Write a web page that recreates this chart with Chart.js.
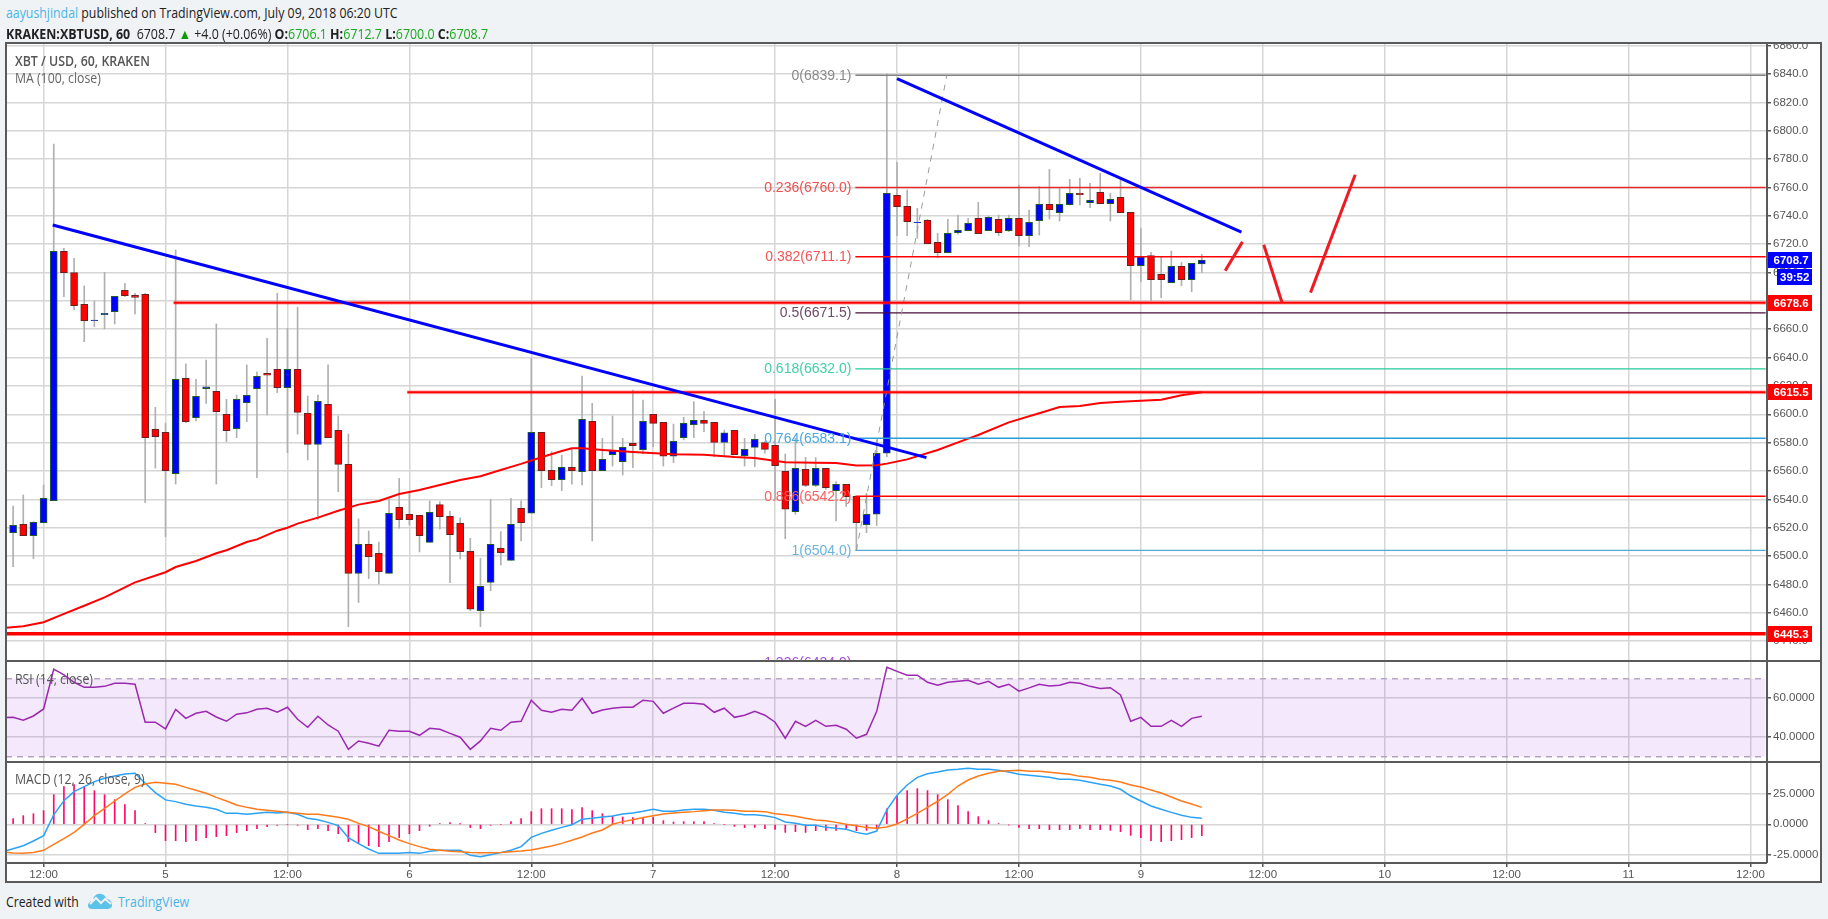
<!DOCTYPE html>
<html><head><meta charset="utf-8"><title>XBT / USD</title>
<script src="https://cdn.jsdelivr.net/npm/chart.js@4/dist/chart.umd.min.js"></script>
<style>
html,body{margin:0;padding:0;background:#f0f3f6;width:1828px;height:919px;overflow:hidden;font-family:"Open Sans",sans-serif}
#panel{position:absolute;left:5px;top:42px;width:1817px;height:841px;box-sizing:border-box;background:#fff}
#frame{position:absolute;left:5px;top:42px;width:1817px;height:841px;box-sizing:border-box;border:2px solid #5a5a5a;pointer-events:none;z-index:5}
canvas{position:absolute;left:6px;display:block}
.rule{position:absolute;background:#5a5a5a;z-index:5;pointer-events:none}
.t{position:absolute;white-space:nowrap;transform-origin:0 50%;z-index:6;line-height:18px;height:18px}
.a{color:#4ab5e8}
.g{color:#19a81f}
</style></head><body>
<div id="panel"></div>
<canvas id="cPrice" width="1816" height="618" style="top:43px"></canvas>
<canvas id="cRsi" width="1816" height="101" style="top:661px"></canvas>
<canvas id="cMacd" width="1816" height="120" style="top:762px"></canvas>
<div id="frame"></div>
<div class="rule" style="left:5px;top:660px;width:1817px;height:2px"></div>
<div class="rule" style="left:5px;top:761px;width:1817px;height:2px"></div>
<div class="rule" style="left:5px;top:862px;width:1762px;height:2px"></div>
<div class="rule" style="left:1766px;top:43px;width:2px;height:820px"></div>

<div class="t" style="left:6px;top:4px;font-size:14px;color:#222;transform:scaleX(.88)"><span class="a">aayushjindal</span> published on TradingView.com, July 09, 2018 06:20 UTC</div>
<div class="t" style="left:6px;top:25px;font-size:14px;color:#222;transform:scaleX(.888)"><b>KRAKEN:XBTUSD, 60</b>&nbsp; 6708.7 <span style="color:#0a9a0a">&#9650;</span> +4.0 (+0.06%) <b>O:</b><span class="g">6706.1</span> <b>H:</b><span class="g">6712.7</span> <b>L:</b><span class="g">6700.0</span> <b>C:</b><span class="g">6708.7</span></div>
<div class="t" style="left:15px;top:52px;font-size:14px;font-weight:600;color:#555;transform:scaleX(.883)">XBT / USD, 60, KRAKEN</div>
<div class="t" style="left:15px;top:69px;font-size:14px;color:#666;transform:scaleX(.877)">MA (100, close)</div>
<div class="t" style="left:15px;top:670px;font-size:14px;color:#555;transform:scaleX(.88)">RSI (14, close)</div>
<div class="t" style="left:15px;top:770px;font-size:14px;color:#555;transform:scaleX(.88)">MACD (12, 26, close, 9)</div>
<div class="t" style="left:6px;top:893px;font-size:14px;color:#222;transform:scaleX(.875)">Created with</div>
<svg style="position:absolute;left:87px;top:891px;z-index:6" width="26" height="20" viewBox="0 0 26 20"><path d="M1 15 C1 11 4 10 6 10 C6 5 10 2 14 3 C17 3 19 6 19 8 C23 8 25 11 25 14 C25 17 22 18 20 18 L5 18 C3 18 1 17 1 15Z" fill="#5bc2ea"/><path d="M3 13 L9 7 L14 12 L18 8 L24 13" fill="none" stroke="#f0f3f6" stroke-width="2"/></svg>
<div class="t" style="left:118px;top:893px;font-size:14px;color:#4ab5e8;transform:scaleX(.89)">TradingView</div>

<script>
// ---- time axis
const firstCandleHour = -3;             // hours relative to Jul 4 12:00
const xTickHours  = [0,12,24,36,48,60,72,84,96,108,120,132,144,156,168];
const xTickLabels = ['12:00','5','12:00','6','12:00','7','12:00','8','12:00','9','12:00','10','12:00','11','12:00'];
const priceTicks = [6860,6840,6820,6800,6780,6760,6740,6720,6700,6680,6660,6640,6620,6600,6580,6560,6540,6520,6500,6480,6460,6440];
const rsiTicks  = [60,40];
const macdTicks = [25,0,-25];

// ---- candles
const opens = [6516.5,6522.4,6514.4,6523.6,6539.1,6715,6699.9,6677.6,6666.1,6670.3,6672.4,6687.5,6683.9,6684.6,6589.4,6587.3,6558.1,6625.4,6597.6,6618.1,6616.2,6600,6589.9,6608.2,6618.1,6628.8,6631.7,6618.8,6631.7,6600.7,6578.8,6607,6588.7,6564.7,6487.8,6508.3,6501.9,6487.8,6534.4,6529.5,6528.8,6509.7,6536.3,6528,6523.1,6503.4,6461.5,6481.5,6505.5,6497,6533.7,6530.2,6587.3,6560.5,6553.9,6562.6,6559.5,6595,6560.3,6571.5,6566.6,6579.5,6575.1,6600,6594.3,6570.4,6583.5,6592.7,6595.7,6594.3,6580.2,6588.7,6570.8,6576.7,6580,6578.1,6559.8,6531.3,6561.2,6549.9,6561.9,6546.1,6550.6,6542.1,6522.1,6529.5,6572.5,6754.4,6746.6,6735.1,6736.8,6721.3,6714,6728.1,6729.5,6738.2,6729.5,6737.5,6729.5,6738.2,6726,6736.5,6748,6742.2,6747.8,6755.8,6749.2,6756.5,6748.5,6753,6742.4,6704.8,6711.9,6698.7,6692.8,6704.3,6694.9,6706.1];
const highs = [6535.3,6543.1,6524.3,6550.1,6790.6,6717.1,6710,6690.5,6679.9,6700.1,6683.2,6692.4,6685.3,6685.3,6604.9,6593.6,6715.9,6635.5,6624.7,6638.3,6663.7,6610.6,6613.6,6634.8,6630,6653.6,6685.3,6660.6,6675.5,6612.9,6613.6,6634.8,6598.8,6586.1,6526.2,6517.7,6509.9,6540,6554.8,6544.3,6528.8,6538.9,6538.4,6531.6,6526.9,6512.5,6498.4,6540,6517.2,6540.7,6538.9,6639.5,6587.3,6573.7,6571.3,6576,6627,6607.7,6583,6598.8,6583,6617.1,6610.1,6600,6594.3,6593.1,6597.9,6608.9,6601.9,6594.3,6588.9,6588.7,6583,6585.9,6580.7,6610.6,6572,6583,6569.7,6569.4,6561.9,6552.5,6550.6,6542.1,6544.3,6582,6840,6777.7,6758.2,6745.2,6737.5,6727.6,6737.5,6740.5,6738.2,6749.5,6739.8,6740.5,6740.5,6761.7,6744,6760.5,6772.7,6759.3,6765.7,6766.4,6762.9,6769.9,6755.8,6765.7,6742.4,6731.1,6714.2,6711.1,6715.1,6707.2,6706.5,6712.7];
const lows = [6492.6,6514.4,6498.2,6523.6,6539.1,6683,6673.6,6651.2,6661.8,6660.2,6663.7,6683,6670.8,6537.7,6562.1,6513.7,6550.8,6594,6595.3,6607.7,6550.8,6580.7,6583.5,6594.8,6555.3,6599.5,6615.3,6572.9,6586.1,6567.8,6525.9,6583.5,6545.4,6450.2,6467.2,6484.1,6480.3,6487.8,6519.6,6521.9,6502.9,6509.7,6519.1,6481.3,6498,6461.5,6450.2,6475.6,6493.7,6497,6510.7,6530.2,6548.3,6549.7,6546.1,6550.8,6550.1,6510.7,6560.3,6563.5,6557.2,6562.4,6572,6577.2,6563.5,6565.9,6581.9,6583.5,6587.8,6570.1,6571.3,6571.5,6563.5,6563,6572.5,6540,6512.3,6529.5,6549,6549,6547,6524.8,6534.9,6503.8,6516.5,6521.5,6570.1,6726,6726,6724.1,6720.3,6710.4,6714,6727.1,6729.5,6727.4,6729.5,6726,6728.8,6718.7,6718.2,6726.4,6737.7,6736.3,6747.6,6747.6,6745.7,6748.5,6736.3,6742.2,6680.6,6693.5,6680.1,6682.2,6692.8,6690.7,6686.5,6700];
const closes = [6521.7,6514.4,6523.8,6540.7,6715,6699.9,6676.6,6666.1,6666.5,6671.2,6683.2,6683.7,6682.5,6583.5,6584.2,6560.3,6624.7,6594.8,6612.7,6619.3,6601.9,6588.5,6610.6,6613.4,6626.8,6627.6,6618.8,6631.7,6601.4,6578.8,6609.1,6583.5,6564.7,6487.8,6508.3,6499.6,6489,6530.2,6525.7,6525.7,6514.4,6530.9,6527.8,6515.1,6503.1,6462.5,6478.7,6508.3,6502.4,6522.4,6523.6,6587.3,6560.3,6553.9,6562.6,6560.3,6596.5,6560.3,6568.2,6574.4,6576.7,6577.9,6595,6593.6,6570.4,6581,6593.6,6595.7,6593.6,6580.2,6587,6571.5,6575.3,6582.3,6575.3,6563.8,6533,6561.9,6549.9,6561.9,6548.3,6550.6,6541.9,6523.6,6529.5,6572.5,6755.8,6746.4,6735.8,6735.6,6720.3,6714,6727.6,6729.7,6734.7,6727.4,6738.9,6728.1,6738.2,6726,6735.4,6748,6744.3,6748,6755.8,6754.9,6750.9,6748.5,6751.6,6742.2,6704.8,6711.1,6694.9,6694.9,6704.3,6694.9,6706.5,6708.7];

// ---- moving average (hour, value)
const maHours = [-4,-2,0,2,4,6,9,12,13,15,17,18,20,21,23,24,25,27,29,31,33,35,37,39,41,43,45,47,49,51,52,53,55,58,62,65,68,70,73,76,78,80,82,83,85,88,91,92,95,98,100,102,104,106,108,110,112,114];
const maValues = [6449.3,6450.5,6453.3,6459.2,6465,6470.9,6481.5,6488.6,6492.3,6496.5,6502,6504.1,6509.9,6511.8,6517.9,6520,6522.9,6527.1,6532,6536.3,6538.9,6543.8,6546.6,6550.1,6553.7,6556.3,6560.7,6565,6569.7,6574.1,6576,6576,6574.8,6573.4,6571.8,6571.5,6569.9,6569.2,6566.1,6565.9,6565.7,6563.8,6564,6565.2,6568.2,6574.8,6582.8,6585.4,6594.3,6600.7,6605.1,6605.9,6608,6608.9,6609.6,6610.3,6613.4,6615.5];

// ---- indicators, one value per hour from firstLineHour
const firstLineHour = -4;
const rsiValues = [50.1,50.2,48.7,50.9,54.5,74.9,72,68.2,65.6,65.6,66.1,67.7,67.7,67.2,47.7,47.7,44.3,54.3,49.7,52.3,53.3,50.4,48.2,51.8,52.5,54.3,54.9,52.8,55.4,49.2,45.1,50.8,46.3,43.1,33.8,38.1,36.9,35.4,43.6,43.1,43.1,41,44.6,44.1,42,40,33.8,38.1,44.6,43.6,47.7,48.2,59,53.8,52.8,54.3,53.8,60,52.3,54,54.9,55.4,55.4,59,58.4,52.3,54.9,57.4,57.4,56.9,52.8,54.9,50.2,51.3,53.3,51.3,47.7,39.5,48.2,45.6,48.7,45.6,46.1,44.1,39.5,41.5,53.3,75.9,73.8,71.8,71.8,68.2,66.7,68.2,68.7,69.2,67.2,68.7,65.6,67.2,63.6,65.3,67.2,66.3,66.7,68.2,67.7,66.1,65,65.4,61.7,48.2,50.2,45.6,45.6,48.7,45.6,49.7,50.8];
const macdLine = [-22.4,-20,-17.5,-13.7,-9.3,7.7,19.4,26.8,30.9,35,37.7,39.6,41.3,41.8,33.6,26,20,18.6,16.4,15,13.9,12.3,9,9,8.2,9,9.8,9.3,9.8,8.2,4.9,3.8,1.6,-1.1,-10.9,-15.8,-20.2,-23.8,-23.8,-23.8,-23,-23.8,-22.1,-21.3,-21.3,-21.3,-25.4,-26.5,-24.9,-23.2,-21.3,-18.3,-10.7,-7.4,-4.9,-2.5,-0.3,4.1,4.9,6,6.8,8.5,9.3,10.7,12.3,10.7,10.7,11.8,12.3,12.3,11.5,9.8,9,7.9,7.9,7.1,5.5,1.9,0.8,-0.8,-0.8,-2.5,-3.3,-4.1,-6.6,-8.2,-5.5,11.8,23.8,32.2,38.5,41.5,42.9,44.5,45.1,45.9,45.1,45.1,44.3,42.9,41,40.2,39.3,38.5,36.9,36.9,36.1,34.4,32.8,31.4,28.7,23.2,19.1,15,12.3,9.8,7.4,5.7,4.9];
const macdSignal = [-22.7,-23.5,-23.8,-23,-21.3,-16.4,-11.7,-6.6,0,7.1,13.1,19.1,24.9,30.3,33.1,34.4,33.6,32.8,30.3,27.9,25.4,22.1,19.1,15.8,13.9,12.3,11.5,10.7,9.8,9,8.2,8.2,7.1,5.7,4.1,0.8,-1.9,-5.7,-9.3,-12.8,-15.8,-18.3,-20.5,-21.3,-22.1,-22.4,-23,-23.2,-23.2,-23,-22.4,-21.9,-21,-19.4,-17.8,-15.6,-13.1,-10.4,-7.1,-4.6,0,2.2,3.8,5.5,7.1,8.5,9.3,9.8,10.4,11.2,11.8,11.8,11.5,10.7,10.7,10.4,8.7,7.9,6.6,4.9,3.6,3,1.6,0,-1.1,-2.7,-3.3,-2.2,0.3,4.4,9,13.9,18.9,24.6,31.4,36.3,39.6,41.8,43.4,44,44.3,43.4,43.4,42.6,41.8,41,39.3,38.5,36.9,36.1,34.7,32.2,30.6,28.1,25.7,22.4,19.1,16.7,13.9];
const macdHist = [4.6,7.1,8.7,11.2,24.3,30.9,32.5,30.6,27.6,24.3,20.2,16.1,11.2,0.5,-6.8,-13.4,-13.4,-14.2,-13.4,-10.9,-10.1,-9.3,-6.8,-5.2,-3.6,-1.9,-0.8,0,-0.8,-4.4,-3.6,-5.2,-7.7,-14.2,-15.8,-17.5,-18.3,-14.2,-10.9,-7.7,-5.2,-1.6,0.5,1.4,0.3,-2.7,-3.6,-0.8,0,2.2,4.6,10.4,12.8,12.8,12.8,12,13.7,11.2,8.7,6.6,6,5.5,5.2,5.7,3,1.9,2.2,2.2,2.2,0.5,0,-1.6,-2.7,-2.5,-3.6,-4.1,-6.6,-6,-6.6,-5.2,-4.9,-4.9,-3.8,-5.2,-4.9,-3.8,12.6,23,27.6,29.2,27.6,24.3,20.2,15.3,10.4,6.3,3,0.5,-0.5,-2.5,-3.6,-3.6,-4.4,-4.4,-4.4,-3.6,-4.4,-4.4,-4.9,-6,-9,-10.9,-13.4,-14.2,-13.4,-12.6,-10.9,-9.3];
const rsiBandTop = 70, rsiBandBottom = 30;

// ---- fibonacci retracement
const fibStartHour = 79.9;
const fibValues = [6839.1,6760.0,6711.1,6671.5,6632.0,6583.1,6542.2,6504.0,6424.9];
const fibLabels = ['0(6839.1)','0.236(6760.0)','0.382(6711.1)','0.5(6671.5)','0.618(6632.0)','0.764(6583.1)','0.886(6542.2)','1(6504.0)','1.236(6424.9)'];
const fibLineColors = ['#808080','#e32b2b','#ff0000','#4a0e3a','#26c99a','#2f9bd6','#ff0000','#5aa6d6','#9c27d0'];
const fibTextColors = ['#8a8a8a','#ee5050','#f25555','#6e4a66','#3fd0a8','#4aa8de','#ff6060','#6ab4e0','#a850d8'];

// ---- drawn levels and trend lines
const levelValues = [6678.6,6615.5,6445.3];
const levelStartHours = [12.8,35.8,-4];
const trendA = {h:[0.9,86.9], v:[6733.5,6569.4]};
const trendB = {h:[84,117.9], v:[6836.7,6728.5]};
const arrow1 = {h:[116.3,118.0], v:[6701.3,6721.6]};
const arrow2 = {h:[120.1,121.9], v:[6719.6,6678.7]};
const arrow3 = {h:[124.7,129.1], v:[6685.8,6769.0]};
const fibDiagonal = {h:[80,88.9], v:[6504,6839.1]};

// ---- price tags
const tagTexts  = ['6708.7','6678.6','6615.5','6445.3'];
const tagValues = [6708.7,6678.6,6615.5,6445.3];
const tagColors = ['#0000ff','#ff0000','#ff0000','#ff0000'];
const countdownText = '39:52';

// ---- view ranges
const xMin=-3.70, xMax=169.63;
const priceMin=6426.0, priceMax=6861.86;
const rsiMin=27.3, rsiMax=79.1;
const macdMin=-31.7, macdMax=51.07;
const axisWidth=55;
const AXIS_FONT={family:'"Liberation Sans",Arial,sans-serif',size:11.5};
const GRID='#d6d6d6';

const seg=(o,color,width,extra={})=>Object.assign({type:'line',data:o.h.map((x,i)=>({x,y:o.v[i]})),borderColor:color,borderWidth:width,pointRadius:0,tension:0,fill:false,borderCapStyle:'butt'},extra);
const lineHours=rsiValues.map((_,i)=>firstLineHour+i);
const candleHours=opens.map((_,i)=>firstCandleHour+i);
const noPad=a=>{a.paddingTop=0;a.paddingBottom=0;a.paddingLeft=0;a.paddingRight=0;};

function xScale(showLabels){
  return {type:'linear',min:xMin,max:xMax,offset:false,
    grid:{color:GRID,lineWidth:1.5,offset:false,drawTicks:showLabels,tickLength:4,tickColor:'#555'},
    border:{display:false},
    afterBuildTicks(a){a.ticks=xTickHours.map(value=>({value}));},
    afterFit(a){a.height=showLabels?19:0;noPad(a);},
    ticks:{display:showLabels,autoSkip:false,maxRotation:0,minRotation:0,padding:1,color:'#555',font:AXIS_FONT,
      callback:(v,i)=>xTickLabels[i]}};
}
function yScale(min,max,ticks,decimals){
  return {type:'linear',position:'right',min,max,
    grid:{color:GRID,lineWidth:1.5,tickLength:4,tickColor:'#555'},
    border:{display:false},
    afterBuildTicks(a){a.ticks=ticks.map(value=>({value}));},
    afterFit(a){a.width=axisWidth;noPad(a);},
    ticks:{autoSkip:false,padding:2,color:'#555',font:AXIS_FONT,callback:v=>Number(v).toFixed(decimals)}};
}
const baseOptions={responsive:false,animation:false,devicePixelRatio:1,
  layout:{padding:0},plugins:{legend:{display:false},tooltip:{enabled:false},title:{display:false}},events:[]};

const overlayPlugin={id:'overlay',afterDatasetsDraw(chart){
  const c=chart.ctx,a=chart.chartArea,x=chart.scales.x,y=chart.scales.y;
  c.save();
  c.beginPath();c.rect(a.left,a.top,a.width,a.height);c.clip();
  c.font='14px "Liberation Sans",Arial,sans-serif';c.textAlign='right';c.textBaseline='middle';
  fibLabels.forEach((t,i)=>{c.fillStyle=fibTextColors[i];c.fillText(t,x.getPixelForValue(fibStartHour)-4,y.getPixelForValue(fibValues[i])+0.5);});
  c.restore();
  c.save();
  c.font='bold 11.5px "Liberation Sans",Arial,sans-serif';c.textBaseline='middle';c.textAlign='left';
  const L=a.right,TW=45,TH=16;
  tagTexts.forEach((t,i)=>{
    const py=Math.round(y.getPixelForValue(tagValues[i]));
    c.fillStyle=tagColors[i];c.fillRect(L,py-TH/2,TW,TH);
    c.fillStyle='#fff';c.fillText(t,L+6.5,py+0.5);
    if(i===0){c.fillStyle=tagColors[i];c.fillRect(L+10,py+TH/2+1,TW-10,TH);
      c.fillStyle='#fff';c.fillText(countdownText,L+13,py+TH/2+1+TH/2+0.5);}
  });
  c.restore();
}};

const wickData=candleHours.map((h,i)=>({x:h,y:[lows[i],highs[i]]}));
const bodyData=candleHours.map((h,i)=>({x:h,y:[opens[i],closes[i]]}));
const isUp=i=>closes[i]>=opens[i];

const priceDatasets=[
  {type:'bar',data:wickData,barThickness:1,backgroundColor:'#b0b0b0',borderWidth:0,grouped:false,order:50},
  {type:'bar',data:bodyData,barThickness:7,grouped:false,order:49,borderSkipped:false,borderWidth:1,
    backgroundColor:candleHours.map((_,i)=>isUp(i)?'#0000ff':'#ff0000'),
    borderColor:candleHours.map((_,i)=>isUp(i)?'#1c5c2c':'#6a2020')},
  seg({h:maHours,v:maValues},'#ff0000',2,{order:40}),
];
fibValues.forEach((v,i)=>priceDatasets.push(seg({h:[fibStartHour,169.5],v:[v,v]},fibLineColors[i],i===0?1.6:1.4,{order:30})));
priceDatasets.push(seg(fibDiagonal,'#9a9a9a',1,{borderDash:[6,6],order:29}));
levelValues.forEach((v,i)=>{
  const o={h:[levelStartHours[i],169.5],v:[v,v]};
  if(i<2){priceDatasets.push(seg(o,'rgba(255,60,60,.35)',4,{order:21}));priceDatasets.push(seg(o,'#ff0000',2,{order:20}));}
  else priceDatasets.push(seg(o,'#ff0000',3.5,{order:20}));
});
priceDatasets.push(seg(trendA,'#0000ff',3,{order:10}));
priceDatasets.push(seg(trendB,'#0000ff',3,{order:10}));
[arrow1,arrow2,arrow3].forEach(o=>priceDatasets.push(seg(o,'#ed1c24',3,{order:9})));

new Chart(document.getElementById('cPrice'),{type:'bar',data:{datasets:priceDatasets},plugins:[overlayPlugin],
  options:Object.assign({},baseOptions,{scales:{x:xScale(false),y:yScale(priceMin,priceMax,priceTicks,1)}})});

new Chart(document.getElementById('cRsi'),{type:'line',data:{datasets:[
  seg({h:[xMin,169.5],v:[rsiBandTop,rsiBandTop]},'#b9a7c4',1.3,{borderDash:[6,5],order:5,fill:{target:{value:rsiBandBottom}},backgroundColor:'rgba(150,40,230,0.10)'}),
  seg({h:[xMin,169.5],v:[rsiBandBottom,rsiBandBottom]},'#b9a7c4',1.3,{borderDash:[6,5],order:5}),
  seg({h:lineHours,v:rsiValues},'#9c27b0',1.5,{order:1}),
]},options:Object.assign({},baseOptions,{scales:{x:xScale(false),y:yScale(rsiMin,rsiMax,rsiTicks,4)}})});

new Chart(document.getElementById('cMacd'),{type:'bar',data:{datasets:[
  {type:'bar',data:candleHours.map((h,i)=>({x:h,y:macdHist[i]})),barThickness:1,backgroundColor:'#ff0a6c',borderWidth:0,grouped:false,order:5},
  seg({h:lineHours,v:macdLine},'#2aa2f5',1.5,{order:2}),
  seg({h:lineHours,v:macdSignal},'#ff7a1a',1.5,{order:1}),
]},options:Object.assign({},baseOptions,{scales:{x:xScale(true),y:yScale(macdMin,macdMax,macdTicks,4)}})});
</script>
</body></html>
